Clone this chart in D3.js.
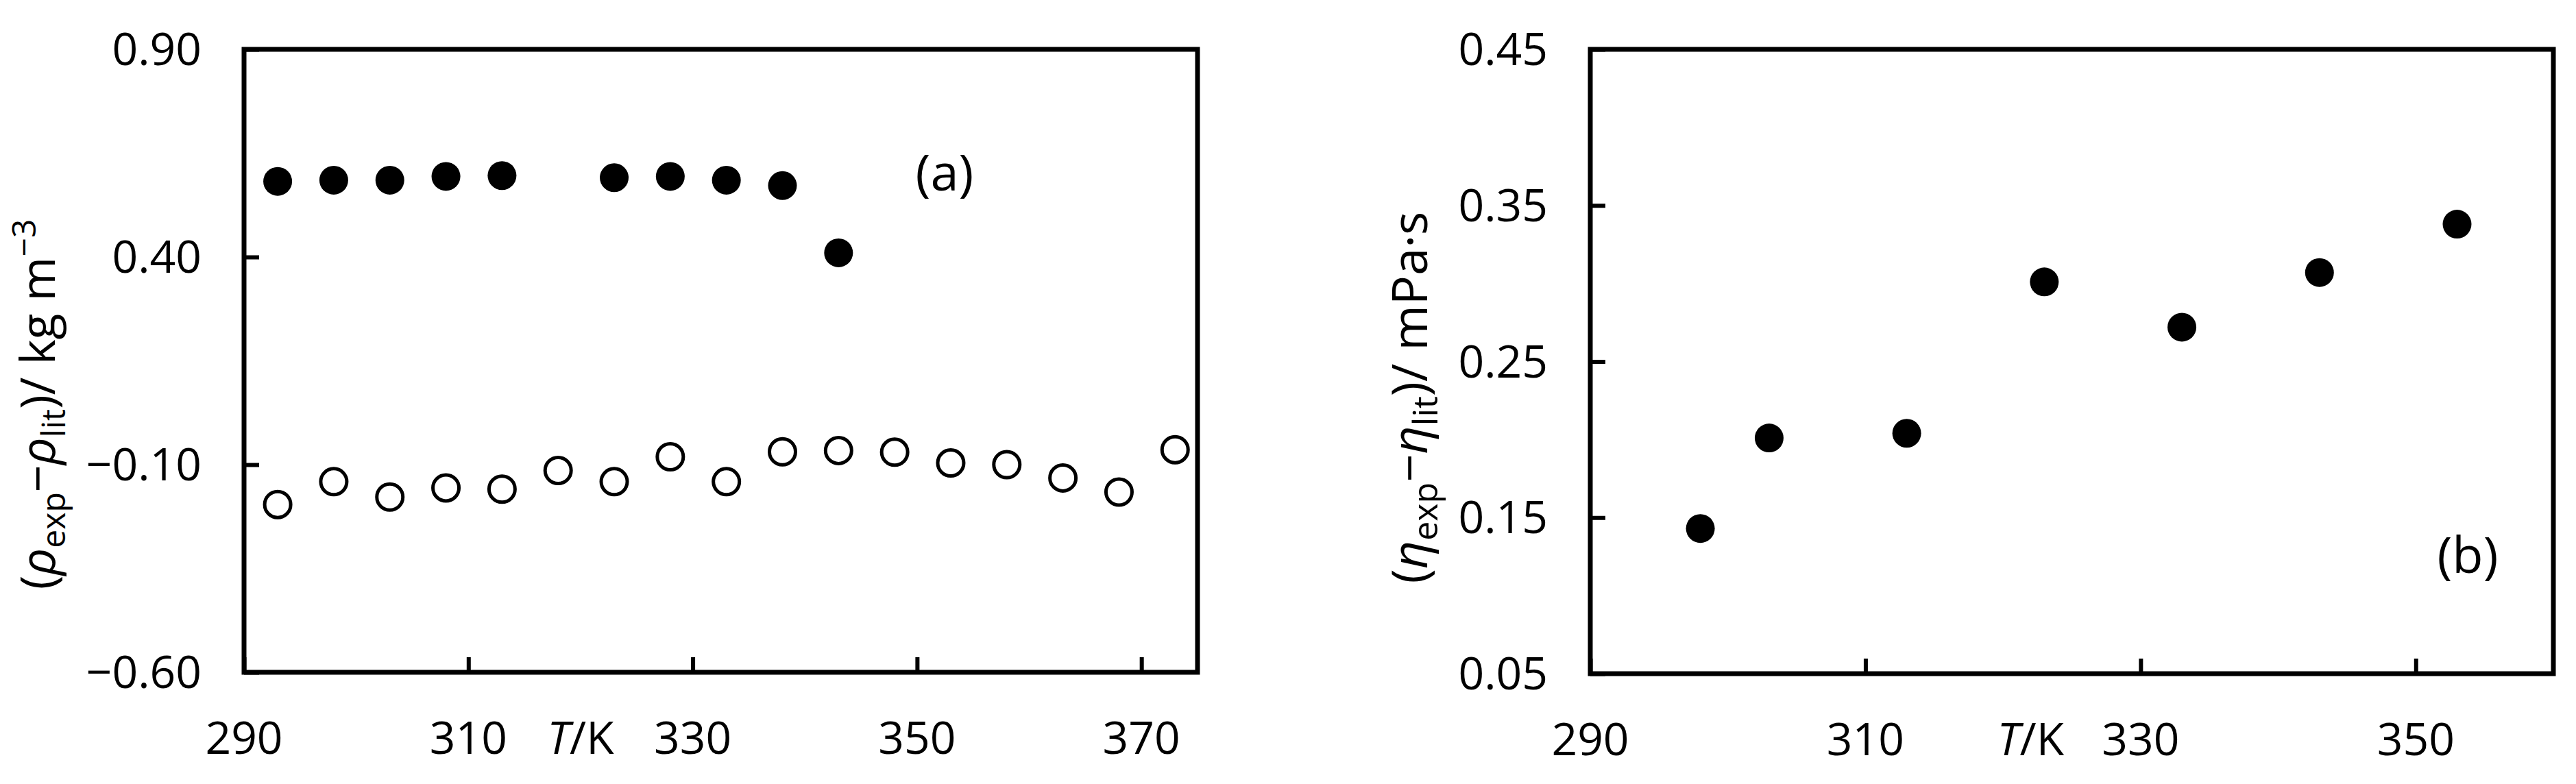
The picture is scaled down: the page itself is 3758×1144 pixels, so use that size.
<!DOCTYPE html>
<html lang="en">
<head>
<meta charset="UTF-8">
<title>Deviation plots</title>
<style>
  body { margin: 0; background: #fff; }
  svg { display: block; font-family: "Open Sans", sans-serif; }
</style>
</head>
<body>
<div id="graphic"></div>
<script src="https://cdn.jsdelivr.net/npm/d3@7"></script>
<script>
// panel (a): density deviations
var densFilledT = [293, 298, 303, 308, 313, 323, 328, 333, 338, 343];
var densFilled = [0.582, 0.585, 0.585, 0.594, 0.596, 0.591, 0.594, 0.585, 0.572, 0.41];
var densOpenT = [293, 298, 303, 308, 313, 318, 323, 328, 333, 338, 343, 348, 353, 358, 363, 368, 373];
var densOpen = [-0.196, -0.141, -0.178, -0.156, -0.159, -0.114, -0.141, -0.081, -0.141, -0.069, -0.066, -0.070, -0.096, -0.100, -0.132, -0.166, -0.064];
var densYTicks = [-0.60, -0.10, 0.40, 0.90];
var densXTicks = [290, 310, 330, 350, 370];

// panel (b): viscosity deviations
var viscT = [298, 303, 313, 323, 333, 343, 353];
var visc = [0.143, 0.201, 0.204, 0.301, 0.272, 0.307, 0.338];
var viscYTicks = [0.05, 0.15, 0.25, 0.35, 0.45];
var viscXTicks = [290, 310, 330, 350];

var width = 3758, height = 1144;
var svg = d3.select('#graphic').append('svg')
    .attr('width', width).attr('height', height);

function panel(opt) {
    var x = d3.scaleLinear().domain(opt.xDomain).range([opt.left, opt.right]);
    var y = d3.scaleLinear().domain(opt.yDomain).range([opt.bottom, opt.top]);
    var g = svg.append('g');

    // inward ticks
    g.append('g').attr('transform', 'translate(0,' + opt.bottom + ')')
        .call(d3.axisTop(x).tickValues(opt.xTicks).tickSize(22).tickFormat(''))
        .call(function(s) { s.select('.domain').remove(); s.selectAll('line').attr('stroke-width', 6); });
    g.append('g').attr('transform', 'translate(' + opt.left + ',0)')
        .call(d3.axisRight(y).tickValues(opt.yTicks).tickSize(22).tickFormat(''))
        .call(function(s) { s.select('.domain').remove(); s.selectAll('line').attr('stroke-width', 6); });

    g.append('rect')
        .attr('x', opt.left).attr('y', opt.top)
        .attr('width', opt.right - opt.left).attr('height', opt.bottom - opt.top)
        .attr('fill', 'none').attr('stroke', '#000').attr('stroke-width', 7);

    // tick labels
    g.selectAll('.xl').data(opt.xTicks).join('text')
        .attr('x', function(d) { return x(d); }).attr('y', opt.bottom + 119)
        .attr('text-anchor', 'middle').attr('font-size', 66).text(function(d) { return d; });
    g.selectAll('.yl').data(opt.yTicks).join('text')
        .attr('x', opt.left - 62).attr('y', function(d) { return y(d); })
        .attr('dy', '0.35em').attr('text-anchor', 'end').attr('font-size', 66)
        .text(function(d) { return d.toFixed(2).replace('-', '\u2212'); });

    // axis title T/K
    var tk = g.append('text').attr('x', x(opt.tkAt)).attr('y', opt.bottom + 119)
        .attr('text-anchor', 'middle').attr('font-size', 66);
    tk.append('tspan').attr('font-style', 'italic').text('T');
    tk.append('tspan').text('/K');

    return { x: x, y: y, g: g };
}

// ---- panel (a)
var a = panel({ left: 356, right: 1747, top: 72, bottom: 981, tkAt: 320,
    xDomain: [290, 375], yDomain: [-0.60, 0.90], xTicks: densXTicks, yTicks: densYTicks });

a.g.selectAll('.open').data(densOpen).join('circle')
    .attr('cx', function(d, i) { return a.x(densOpenT[i]); })
    .attr('cy', function(d) { return a.y(d); })
    .attr('r', 19).attr('fill', '#fff').attr('stroke', '#000').attr('stroke-width', 5);
a.g.selectAll('.filled').data(densFilled).join('circle')
    .attr('cx', function(d, i) { return a.x(densFilledT[i]); })
    .attr('cy', function(d) { return a.y(d); })
    .attr('r', 21).attr('fill', '#000');

a.g.append('text').attr('x', 1378).attr('y', 252).attr('dy', '0.35em')
    .attr('text-anchor', 'middle').attr('font-size', 74).text('(a)');

var ta = a.g.append('text')
    .attr('transform', 'translate(80,' + 590 + ') rotate(-90)')
    .attr('text-anchor', 'middle').attr('font-size', 70);
ta.append('tspan').text('(');
ta.append('tspan').attr('font-style', 'italic').text('\u03c1');
ta.append('tspan').attr('font-size', 48).attr('dy', 15).text('exp');
ta.append('tspan').attr('dy', -15).text('\u2212');
ta.append('tspan').attr('font-style', 'italic').text('\u03c1');
ta.append('tspan').attr('font-size', 48).attr('dy', 15).text('lit');
ta.append('tspan').attr('dy', -15).text(')/ kg m');
ta.append('tspan').attr('font-size', 48).attr('dy', -28).text('\u22123');

// ---- panel (b)
var b = panel({ left: 2320, right: 3725, top: 72, bottom: 983, tkAt: 322,
    xDomain: [290, 360], yDomain: [0.05, 0.45], xTicks: viscXTicks, yTicks: viscYTicks });

b.g.selectAll('.filled').data(visc).join('circle')
    .attr('cx', function(d, i) { return b.x(viscT[i]); })
    .attr('cy', function(d) { return b.y(d); })
    .attr('r', 21).attr('fill', '#000');

b.g.append('text').attr('x', 3600).attr('y', 810).attr('dy', '0.35em')
    .attr('text-anchor', 'middle').attr('font-size', 74).text('(b)');

var tb = b.g.append('text')
    .attr('transform', 'translate(2082,' + 580 + ') rotate(-90)')
    .attr('text-anchor', 'middle').attr('font-size', 72);
tb.append('tspan').text('(');
tb.append('tspan').attr('font-style', 'italic').text('\u03b7');
tb.append('tspan').attr('font-size', 50).attr('dy', 15).text('exp');
tb.append('tspan').attr('dy', -15).text('\u2212');
tb.append('tspan').attr('font-style', 'italic').text('\u03b7');
tb.append('tspan').attr('font-size', 50).attr('dy', 15).text('lit');
tb.append('tspan').attr('dy', -15).text(')/ mPa\u00b7s');
</script>
</body>
</html>
